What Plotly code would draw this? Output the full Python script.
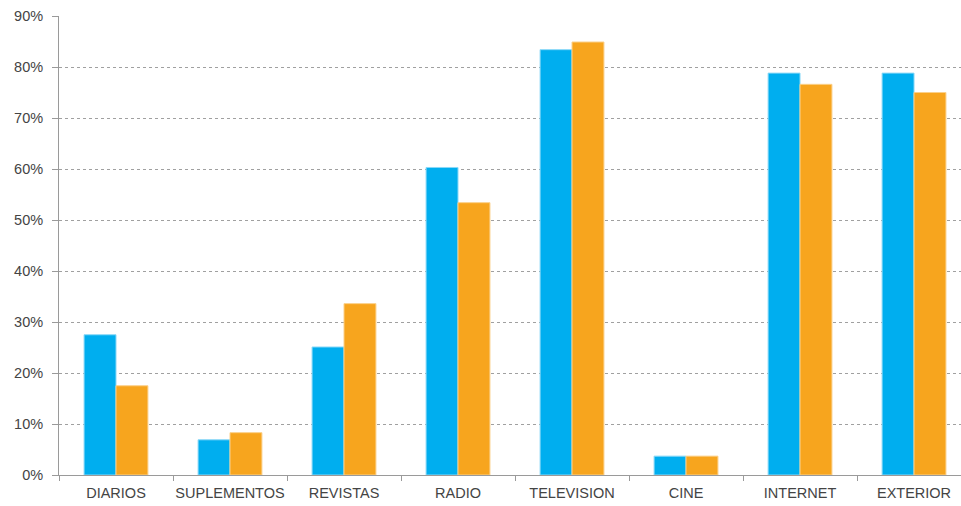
import plotly.graph_objects as go

categories = ["DIARIOS", "SUPLEMENTOS", "REVISTAS", "RADIO", "TELEVISION", "CINE", "INTERNET", "EXTERIOR"]
serie_azul = [27.5, 6.9, 25.1, 60.3, 83.4, 3.7, 78.8, 78.8]
serie_naranja = [17.5, 8.3, 33.6, 53.4, 84.9, 3.7, 76.6, 75.0]
y_ticks = [0, 10, 20, 30, 40, 50, 60, 70, 80, 90]
y_labels = [f"{v}%" for v in y_ticks]

fig = go.Figure()
fig.add_trace(go.Bar(x=categories, y=serie_azul, name="Serie 1",
                     marker=dict(color="#00AEEF", line=dict(color="#8AD8F7", width=1))))
fig.add_trace(go.Bar(x=categories, y=serie_naranja, name="Serie 2",
                     marker=dict(color="#F7A51E", line=dict(color="#FBD08A", width=1))))

fig.update_layout(
    width=961, height=506,
    margin=dict(l=59, r=0, t=16, b=31, autoexpand=False),
    paper_bgcolor="white", plot_bgcolor="white",
    barmode="group", bargap=0.44, bargroupgap=0,
    showlegend=False,
    font=dict(family="Liberation Sans, Arial, sans-serif", size=14.5, color="#444444"),
)
fig.update_xaxes(
    type="category", range=[-0.5, 7.412], automargin=False, tickangle=0,
    showline=True, linecolor="#9a9a9a", linewidth=1,
    ticks="outside", ticklen=5, tickcolor="#9a9a9a", tickson="boundaries",
    showgrid=False, ticklabelstandoff=5,
)
fig.update_yaxes(
    range=[0, 90], tickvals=y_ticks, ticktext=y_labels, automargin=False,
    showline=True, linecolor="#9a9a9a", linewidth=1,
    ticks="outside", ticklen=6, tickcolor="#9a9a9a",
    showgrid=True, gridcolor="#a0a0a0", griddash="3px,3px", gridwidth=1,
    zeroline=False, ticklabelstandoff=6,
)
fig.write_html("out.html", config={"displayModeBar": False},
               post_script="document.body.style.margin='0';")
